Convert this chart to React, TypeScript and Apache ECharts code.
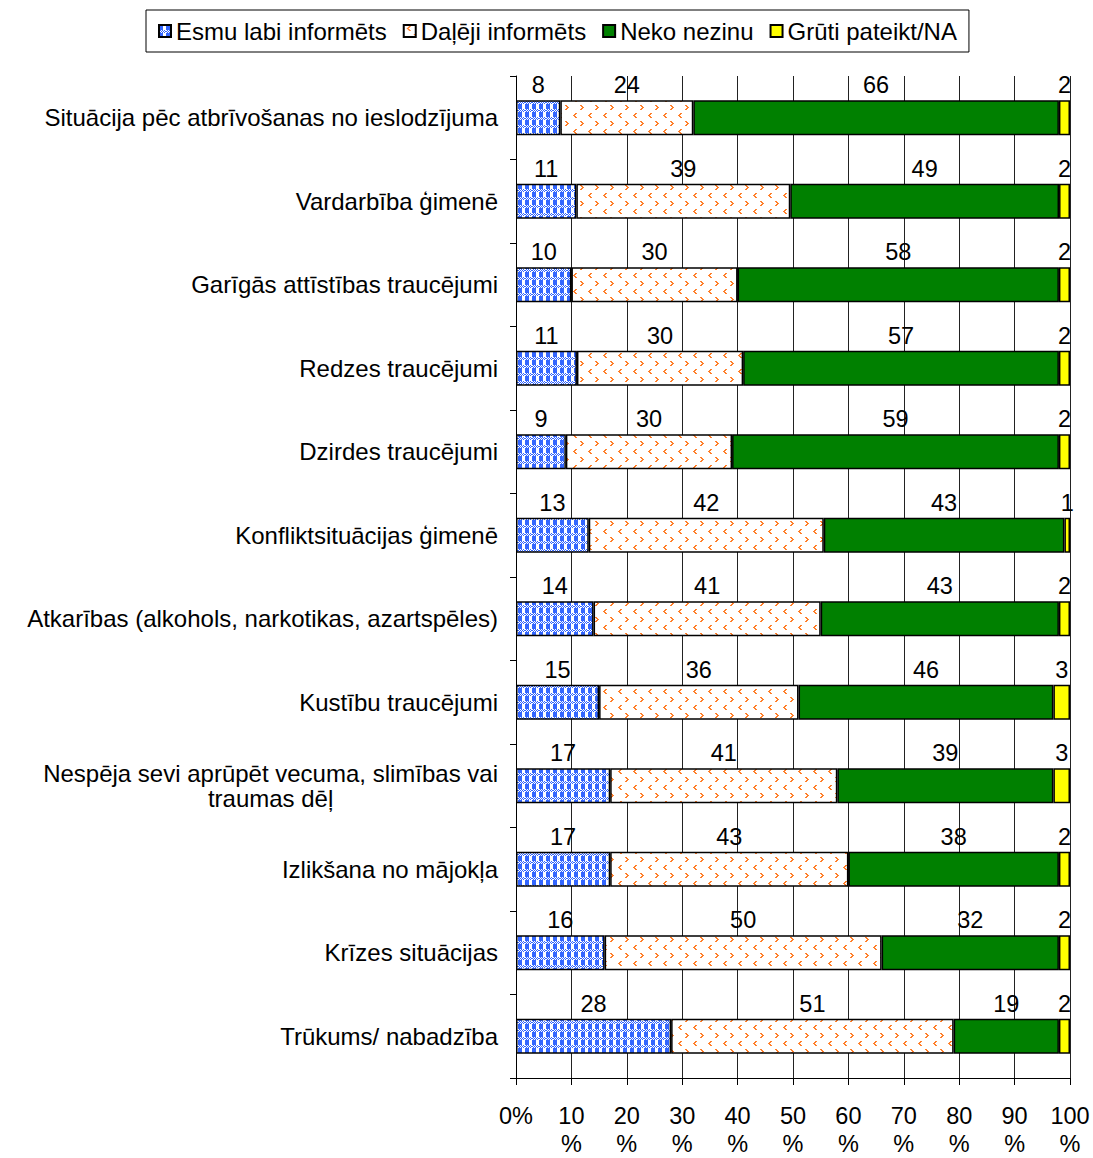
import React, { useEffect, useRef } from 'react';
import * as echarts from 'echarts';

const categories = [
  'Situācija pēc atbrīvošanas no ieslodzījuma',
  'Vardarbība ģimenē',
  'Garīgās attīstības traucējumi',
  'Redzes traucējumi',
  'Dzirdes traucējumi',
  'Konfliktsituācijas ģimenē',
  'Atkarības (alkohols, narkotikas, azartspēles)',
  'Kustību traucējumi',
  'Nespēja sevi aprūpēt vecuma, slimības vai\ntraumas dēļ',
  'Izlikšana no mājokļa',
  'Krīzes situācijas',
  'Trūkums/ nabadzība',
];
const seriesNames = ['Esmu labi informēts', 'Daļēji informēts', 'Neko nezinu', 'Grūti pateikt/NA'];
const labiInformets = [8, 11, 10, 11, 9, 13, 14, 15, 17, 17, 16, 28];
const dalejiInformets = [24, 39, 30, 30, 30, 42, 41, 36, 41, 43, 50, 51];
const nekoNezinu = [66, 49, 58, 57, 59, 43, 43, 46, 39, 38, 32, 19];
const grutiPateikt = [2, 2, 2, 2, 2, 1, 2, 3, 3, 2, 2, 2];
const xTickValues = [0, 10, 20, 30, 40, 50, 60, 70, 80, 90, 100];

const FONT = '"Liberation Sans", Arial, sans-serif';

function makeBluePattern(): HTMLCanvasElement {
  const c = document.createElement('canvas');
  c.width = 7;
  c.height = 8;
  const ctx = c.getContext('2d')!;
  ctx.fillStyle = '#ffffff';
  ctx.fillRect(0, 0, 7, 8);
  ctx.fillStyle = '#3366ff';
  for (let y = 0; y < 8; y++) {
    for (let x = 0; x < 7; x++) {
      if (y < 5) {
        if (x < 4) ctx.fillRect(x, y, 1, 1);
      } else if ((x + y) % 2 === 0) {
        ctx.fillRect(x, y, 1, 1);
      }
    }
  }
  return c;
}

function makeOrangePattern(): HTMLCanvasElement {
  const c = document.createElement('canvas');
  c.width = 15;
  c.height = 16;
  const ctx = c.getContext('2d')!;
  ctx.fillStyle = '#ffffff';
  ctx.fillRect(0, 0, 15, 16);
  ctx.fillStyle = '#ff7f2a';
  // "<" mark
  ctx.fillRect(5, 1, 2, 1);
  ctx.fillRect(4, 2, 2, 1);
  ctx.fillRect(3, 3, 2, 1);
  ctx.fillRect(4, 4, 2, 1);
  ctx.fillRect(5, 5, 2, 1);
  // ">" mark
  ctx.fillRect(10, 9, 2, 1);
  ctx.fillRect(11, 10, 2, 1);
  ctx.fillRect(12, 11, 2, 1);
  ctx.fillRect(11, 12, 2, 1);
  ctx.fillRect(10, 13, 2, 1);
  return c;
}

export default function App() {
  const ref = useRef<HTMLDivElement>(null);

  useEffect(() => {
    document.body.style.margin = '0';
    document.body.style.overflow = 'hidden';
    if (!ref.current) return;
    const chart = echarts.init(ref.current, undefined, { renderer: 'svg' });

    const raw = [labiInformets, dalejiInformets, nekoNezinu, grutiPateikt];
    const sums = categories.map((_, i) => raw.reduce((s, arr) => s + arr[i], 0));
    const blue = makeBluePattern();
    const orange = makeOrangePattern();
    const colors: any[] = [
      { image: blue, repeat: 'repeat', imageWidth: blue.width, imageHeight: blue.height },
      { image: orange, repeat: 'repeat', imageWidth: orange.width, imageHeight: orange.height },
      '#008000',
      '#ffff00',
    ];

    const series = raw.map((arr, si) => ({
      name: seriesNames[si],
      type: 'bar',
      stack: 'total',
      barWidth: 35,
      data: arr.map((v, i) => (v / sums[i]) * 100),
      itemStyle: { color: colors[si], borderColor: '#000', borderWidth: 1.5 },
      label: {
        show: true,
        position: 'top',
        distance: 3,
        formatter: (p: any) => String(arr[p.dataIndex]),
        color: '#000',
        fontSize: 23.5,
        fontFamily: FONT,
      },
      emphasis: { disabled: true },
    }));

    chart.setOption({
      animation: false,
      legend: {
        left: 146,
        top: 10,
        padding: [9, 12],
        borderColor: '#000',
        borderWidth: 1,
        itemWidth: 12,
        itemHeight: 12,
        itemGap: 16,
        icon: 'rect',
        textStyle: { fontSize: 24, fontFamily: FONT, color: '#000' },
        data: seriesNames,
      },
      grid: { left: 516, right: 23, top: 76, bottom: 74, containLabel: false },
      xAxis: {
        type: 'value',
        min: 0,
        max: 100,
        interval: 10,
        axisLine: { show: true, lineStyle: { color: '#000', width: 1 } },
        axisTick: { show: true, length: 7, lineStyle: { color: '#000' } },
        splitLine: { show: true, lineStyle: { color: '#222', width: 1 } },
        axisLabel: {
          margin: 24,
          fontSize: 23.5,
          fontFamily: FONT,
          color: '#000',
          lineHeight: 28,
          formatter: (v: number) => (xTickValues.indexOf(v) === 0 ? v + '%' : v + '\n%'),
        },
      },
      yAxis: {
        type: 'category',
        inverse: true,
        data: categories,
        axisLine: { show: true, lineStyle: { color: '#000', width: 1 } },
        axisTick: { show: true, length: 6, lineStyle: { color: '#000' } },
        splitLine: { show: false },
        axisLabel: {
          margin: 18,
          color: '#000',
          fontSize: 24,
          fontFamily: FONT,
          align: 'right',
          formatter: (v: string) =>
            v
              .split('\n')
              .map((l) => `{c|${l}}`)
              .join('\n'),
          rich: {
            c: { align: 'center', fontSize: 24, fontFamily: FONT, color: '#000', lineHeight: 25 },
          },
        },
      },
      series,
    });

    return () => chart.dispose();
  }, []);

  return <div ref={ref} style={{ width: 1093, height: 1158, overflow: 'hidden' }} />;
}
